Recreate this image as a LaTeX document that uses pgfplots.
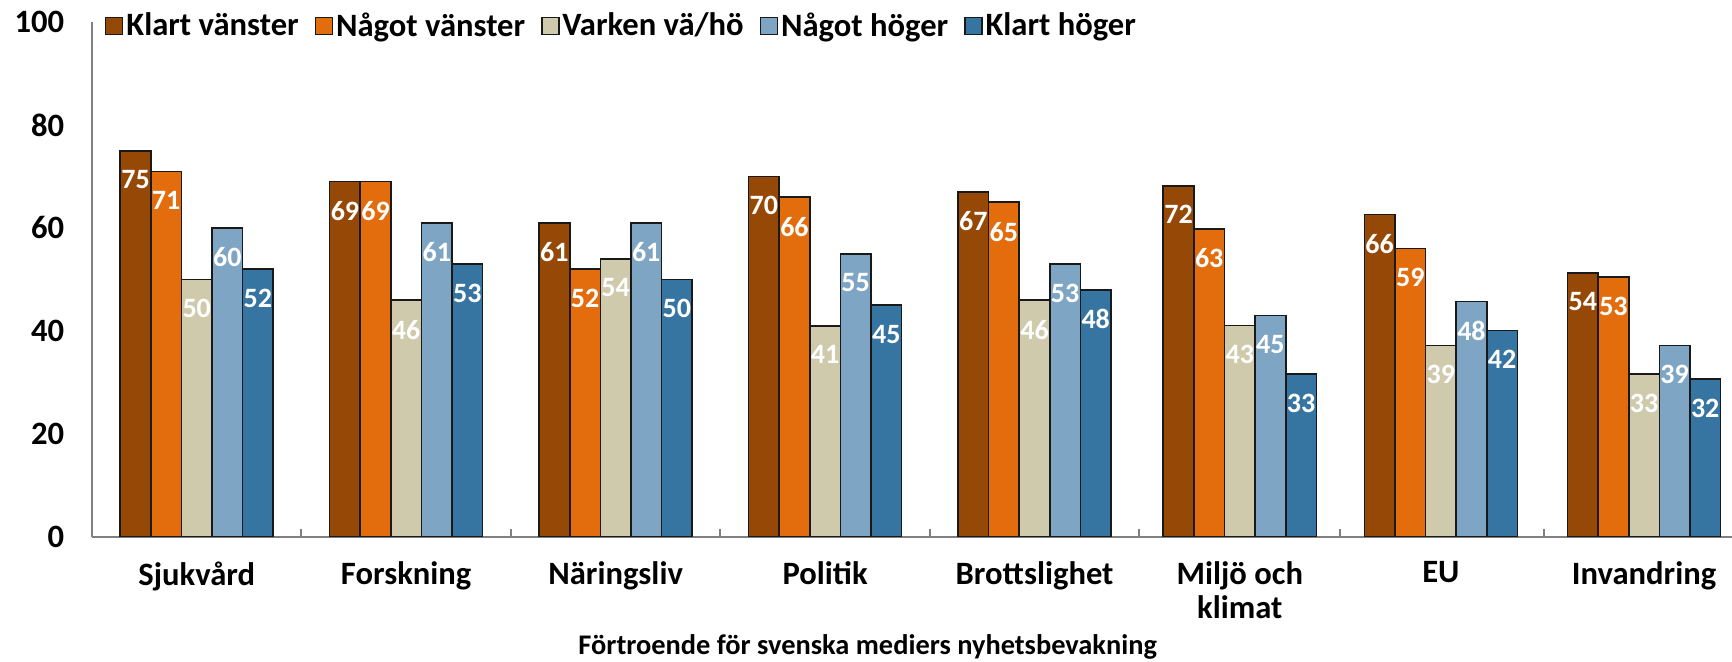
\documentclass[border=0pt]{standalone}
\usepackage{fontspec}
\setmainfont{Carlito}
\usepackage{pgfplots}
\pgfplotsset{compat=1.18}

\definecolor{kv}{RGB}{150,72,6}
\definecolor{nv}{RGB}{227,108,12}
\definecolor{vv}{RGB}{207,202,172}
\definecolor{nh}{RGB}{126,166,196}
\definecolor{kh}{RGB}{54,116,161}
\definecolor{axgray}{RGB}{128,128,128}

\newcommand\lfont{\fontsize{16.3}{17}\selectfont\bfseries}
\newcommand\vfont{\fontsize{14}{14}\selectfont\bfseries}
\newcommand\tfont{\fontsize{14.2}{15}\selectfont\bfseries}

\begin{document}
\begin{tikzpicture}
\begin{axis}[
    name=ax,
    scale only axis,
    width=820pt, height=257.5pt,
    ybar=0pt, bar width=15.3pt,
    legend image code/.code={\draw[#1,line width=0.8pt] (0pt,-4.25pt) rectangle (8.5pt,4.25pt);},
    xmin=-0.5, xmax=7.33,
    ymin=0, ymax=100,
    axis x line*=bottom, axis y line*=left,
    axis line style={draw=axgray, line width=1pt},
    ytick={0,20,...,100},
    xtick={0,1,2,3,4,4.98,5.94,6.91},
    xticklabels={Sjukvård,Forskning,Näringsliv,Politik,Brottslighet,{Miljö och\\klimat},EU,Invandring},
    major tick length=0pt,
    extra x ticks={0.5,1.5,2.5,3.5,4.5,5.46,6.43},
    extra x tick labels={},
    extra x tick style={major tick length=4pt, tick align=inside,
        major tick style={draw=axgray, line width=1pt}},
    /pgf/number format/assume math mode=true,
    yticklabel style={font=\lfont, anchor=east, inner sep=0pt, xshift=-13.75pt},
    xticklabel style={font=\lfont, align=center, anchor=north, inner sep=0pt, yshift=-12pt},
    xlabel={Förtroende för svenska mediers nyhetsbevakning},
    xlabel style={font=\tfont, at={(axis description cs:0.473,0)}, anchor=north, inner sep=0pt, yshift=-48.5pt},
    legend columns=5,
    legend style={at={(axis description cs:0.0076,1)}, anchor=west, yshift=-2pt,
        draw=none, fill=none, inner sep=0pt, font=\lfont,
        nodes={inner sep=1.5pt},
        /tikz/every even column/.append style={column sep=6.4pt}},
    nodes near coords,
    point meta=explicit,
    nodes near coords align={below},
    every node near coord/.append style={font=\vfont, text=white, inner sep=0pt, yshift=-9.5pt},
]
% Klart vänster
\addplot[draw=black!90, line width=0.8pt, fill=kv] coordinates {
    (0,75) [75] (1,69) [69] (2,61) [61] (3,70) [70] (4,67) [67]
    (4.98,68.2) [72] (5.94,62.6) [66] (6.91,51.3) [54]};
% Något vänster
\addplot[draw=black!90, line width=0.8pt, fill=nv] coordinates {
    (0,71) [71] (1,69) [69] (2,52) [52] (3,66) [66] (4,65) [65]
    (4.98,59.8) [63] (5.94,56.0) [59] (6.91,50.5) [53]};
% Varken vä/hö
\addplot[draw=black!90, line width=0.8pt, fill=vv] coordinates {
    (0,50) [50] (1,46) [46] (2,54) [54] (3,41) [41] (4,46) [46]
    (4.98,41.1) [43] (5.94,37.2) [39] (6.91,31.6) [33]};
% Något höger
\addplot[draw=black!90, line width=0.8pt, fill=nh] coordinates {
    (0,60) [60] (1,61) [61] (2,61) [61] (3,55) [55] (4,53) [53]
    (4.98,43.0) [45] (5.94,45.7) [48] (6.91,37.2) [39]};
% Klart höger
\addplot[draw=black!90, line width=0.8pt, fill=kh] coordinates {
    (0,52) [52] (1,53) [53] (2,50) [50] (3,45) [45] (4,48) [48]
    (4.98,31.6) [33] (5.94,40.1) [42] (6.91,30.7) [32]};
\legend{Klart vänster, Något vänster, Varken vä/hö, Något höger, Klart höger}
\end{axis}
\pgfresetboundingbox
\path ([xshift=-46pt,yshift=-62.5pt]ax.south west) rectangle ([yshift=11pt]ax.north east);
\end{tikzpicture}
\end{document}
